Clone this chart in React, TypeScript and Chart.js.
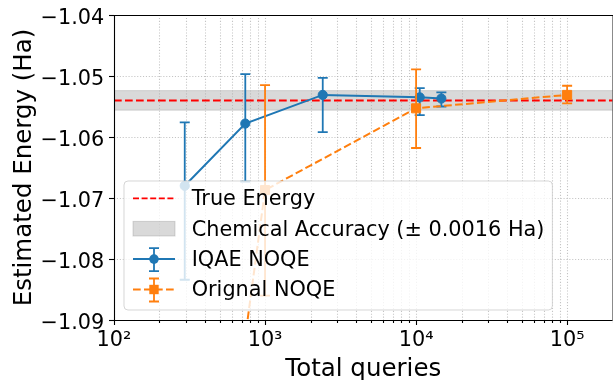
import React, { useEffect, useRef } from 'react';
import { Chart, registerables } from 'chart.js';

Chart.register(...registerables);

// ---- data ----
const iqaeQueries = [294, 740, 2410, 10570, 14700];
const iqaeEnergy = [-1.068, -1.0578, -1.0531, -1.0535, -1.0537];
const iqaeLower = [-1.0834, -1.0673, -1.0592, -1.0564, -1.055];
const iqaeUpper = [-1.0576, -1.0497, -1.0503, -1.052, -1.0527];

const noqeQueries = [600, 1000, 10000, 100000];
const noqeEnergy = [-1.1095, -1.0687, -1.0553, -1.0531];
const noqeLower = [-1.1195, -1.086, -1.0618, -1.0545];
const noqeUpper = [-1.0995, -1.0515, -1.0489, -1.0516];

const trueEnergy = -1.054;
const chemAccuracy = 0.0016;

const yTickValues = [-1.09, -1.08, -1.07, -1.06, -1.05, -1.04];
const xDecades = [100, 1000, 10000, 100000];
const xMin = 100;
const xMax = 200000;
const yMin = -1.09;
const yMax = -1.04;

const seriesLabels = ['IQAE NOQE', 'Orignal NOQE'];
const legendLabels = ['True Energy', 'Chemical Accuracy (\u00b1 0.0016 Ha)', 'IQAE NOQE', 'Orignal NOQE'];
const xTitle = 'Total queries';
const yTitle = 'Estimated Energy (Ha)';

// ---- styling ----
const FONT = "'DejaVu Sans', 'Liberation Sans', sans-serif";
const BLUE = '#1f77b4';
const ORANGE = '#ff7f0e';
const RED = '#ff0000';
const BAND = 'rgba(128,128,128,0.3)';
const GRID = 'rgba(176,176,176,0.75)';
const TICK_FONT = 20.8;
const TITLE_FONT = 24.5;
const DASH = [7.7, 3.3];
const CAP = 5;

const xTickList: number[] = [];
xDecades.forEach((d) => {
  for (let m = 1; m <= 9; m++) {
    const v = m * d;
    if (v <= xMax) xTickList.push(v);
  }
});

const SUP: Record<string, string> = {
  '0': '\u2070', '1': '\u00b9', '2': '\u00b2', '3': '\u00b3', '4': '\u2074',
  '5': '\u2075', '6': '\u2076', '7': '\u2077', '8': '\u2078', '9': '\u2079',
};
const isDecade = (v: number) => Math.abs(Math.log10(v) - Math.round(Math.log10(v))) < 1e-9;
const decadeLabel = (v: number) =>
  '10' + String(Math.round(Math.log10(v))).split('').map((c) => SUP[c]).join('');
const yLabel = (n: number) => (n < 0 ? '\u2212' : '') + Math.abs(n).toFixed(2);

const errSets = [
  { q: iqaeQueries, lo: iqaeLower, hi: iqaeUpper, color: BLUE },
  { q: noqeQueries, lo: noqeLower, hi: noqeUpper, color: ORANGE },
];

function drawErrorBar(ctx: CanvasRenderingContext2D, x: number, yHi: number, yLo: number, color: string) {
  ctx.strokeStyle = color;
  ctx.lineWidth = 1.8;
  ctx.setLineDash([]);
  ctx.beginPath();
  ctx.moveTo(x, yHi);
  ctx.lineTo(x, yLo);
  ctx.moveTo(x - CAP, yHi);
  ctx.lineTo(x + CAP, yHi);
  ctx.moveTo(x - CAP, yLo);
  ctx.lineTo(x + CAP, yLo);
  ctx.stroke();
}

const customPlugin = {
  id: 'customDecor',
  beforeDatasetsDraw(chart: any) {
    const { ctx, chartArea: a, scales } = chart;
    const x = scales.x;
    const y = scales.y;
    ctx.save();
    ctx.beginPath();
    ctx.rect(a.left, a.top, a.right - a.left, a.bottom - a.top);
    ctx.clip();
    // chemical accuracy band
    const bTop = y.getPixelForValue(trueEnergy + chemAccuracy);
    const bBot = y.getPixelForValue(trueEnergy - chemAccuracy);
    ctx.fillStyle = BAND;
    ctx.fillRect(a.left, bTop, a.right - a.left, bBot - bTop);
    ctx.strokeStyle = BAND;
    ctx.lineWidth = 1;
    ctx.strokeRect(a.left - 2, bTop, a.right - a.left + 4, bBot - bTop);
    // grid
    ctx.strokeStyle = GRID;
    ctx.lineWidth = 1.1;
    ctx.setLineDash([1.1, 1.8]);
    x.ticks.forEach((t: any) => {
      const px = Math.round(x.getPixelForValue(t.value)) + 0.5;
      ctx.beginPath();
      ctx.moveTo(px, a.top);
      ctx.lineTo(px, a.bottom);
      ctx.stroke();
    });
    y.ticks.forEach((t: any) => {
      const py = Math.round(y.getPixelForValue(t.value)) + 0.5;
      ctx.beginPath();
      ctx.moveTo(a.left, py);
      ctx.lineTo(a.right, py);
      ctx.stroke();
    });
    // true energy
    const ty = y.getPixelForValue(trueEnergy);
    ctx.strokeStyle = RED;
    ctx.lineWidth = 2;
    ctx.setLineDash(DASH);
    ctx.beginPath();
    ctx.moveTo(a.left, ty);
    ctx.lineTo(a.right, ty);
    ctx.stroke();
    ctx.restore();
  },
  beforeDatasetDraw(chart: any, args: any) {
    const { ctx, chartArea: a, scales } = chart;
    const s = errSets[args.index];
    if (!s) return;
    ctx.save();
    ctx.beginPath();
    ctx.rect(a.left, a.top, a.right - a.left, a.bottom - a.top);
    ctx.clip();
    s.q.forEach((q, i) => {
      const px = scales.x.getPixelForValue(q);
      drawErrorBar(ctx, px, scales.y.getPixelForValue(s.hi[i]), scales.y.getPixelForValue(s.lo[i]), s.color);
    });
    ctx.restore();
  },
  afterDraw(chart: any) {
    const { ctx, chartArea: a, scales } = chart;
    const x = scales.x;
    const y = scales.y;
    ctx.save();
    ctx.setLineDash([]);
    ctx.strokeStyle = '#000';
    ctx.fillStyle = '#000';
    ctx.lineWidth = 1.1;
    // tick marks + tick labels
    ctx.font = `${TICK_FONT}px ${FONT}`;
    ctx.textBaseline = 'alphabetic';
    x.ticks.forEach((t: any) => {
      const px = Math.round(x.getPixelForValue(t.value)) + 0.5;
      const major = isDecade(t.value);
      ctx.beginPath();
      ctx.moveTo(px, a.bottom);
      ctx.lineTo(px, a.bottom + (major ? 5 : 3));
      ctx.stroke();
      if (major) {
        ctx.textAlign = 'center';
        ctx.fillText(decadeLabel(t.value), x.getPixelForValue(t.value), a.bottom + 26);
      }
    });
    y.ticks.forEach((t: any) => {
      const py = Math.round(y.getPixelForValue(t.value)) + 0.5;
      ctx.beginPath();
      ctx.moveTo(a.left, py);
      ctx.lineTo(a.left - 5, py);
      ctx.stroke();
      ctx.textAlign = 'right';
      ctx.fillText(yLabel(t.value), a.left - 9.7, y.getPixelForValue(t.value) + 8.5);
    });
    // axis titles
    ctx.font = `${TITLE_FONT}px ${FONT}`;
    ctx.textAlign = 'center';
    ctx.fillText(xTitle, (a.left + a.right) / 2, 375.7);
    ctx.save();
    ctx.translate(30.7, (a.top + a.bottom) / 2);
    ctx.rotate(-Math.PI / 2);
    ctx.fillText(yTitle, 0, 0);
    ctx.restore();

    // spines
    ctx.beginPath();
    ctx.moveTo(a.left + 0.5, a.top);
    ctx.lineTo(a.left + 0.5, a.bottom + 1);
    ctx.moveTo(a.left, a.bottom + 0.5);
    ctx.lineTo(a.right, a.bottom + 0.5);
    ctx.moveTo(a.left, a.top + 0.5);
    ctx.lineTo(a.right, a.top + 0.5);
    ctx.moveTo(a.right + 0.5, a.top);
    ctx.lineTo(a.right + 0.5, a.bottom);
    ctx.stroke();

    // legend
    ctx.font = `${TICK_FONT}px ${FONT}`;
    const textX = a.left + 77.7;
    let maxW = 0;
    legendLabels.forEach((l) => { maxW = Math.max(maxW, ctx.measureText(l).width); });
    const L = a.left + 10;
    const R = textX + maxW + 8;
    const B = a.bottom - 10;
    const T = B - 129;
    const r = 4;
    ctx.beginPath();
    ctx.moveTo(L + r, T);
    ctx.lineTo(R - r, T);
    ctx.arcTo(R, T, R, T + r, r);
    ctx.lineTo(R, B - r);
    ctx.arcTo(R, B, R - r, B, r);
    ctx.lineTo(L + r, B);
    ctx.arcTo(L, B, L, B - r, r);
    ctx.lineTo(L, T + r);
    ctx.arcTo(L, T, L + r, T, r);
    ctx.closePath();
    ctx.fillStyle = 'rgba(255,255,255,0.8)';
    ctx.fill();
    ctx.strokeStyle = 'rgba(204,204,204,0.8)';
    ctx.lineWidth = 1;
    ctx.stroke();

    const hx0 = L + 9;
    const hx1 = L + 51;
    const hc = (hx0 + hx1) / 2;
    const rowY = (i: number) => T + 17.3 + i * 30.4;

    // True Energy
    ctx.strokeStyle = RED;
    ctx.lineWidth = 1.8;
    ctx.setLineDash([6, 2.6]);
    ctx.beginPath();
    ctx.moveTo(hx0, rowY(0));
    ctx.lineTo(hx1, rowY(0));
    ctx.stroke();
    ctx.setLineDash([]);
    // band patch
    ctx.fillStyle = BAND;
    ctx.fillRect(hx0, rowY(1) - 7.3, hx1 - hx0, 14.6);
    ctx.strokeStyle = BAND;
    ctx.lineWidth = 1;
    ctx.strokeRect(hx0, rowY(1) - 7.3, hx1 - hx0, 14.6);
    // IQAE
    ctx.strokeStyle = BLUE;
    ctx.lineWidth = 2;
    ctx.beginPath();
    ctx.moveTo(hx0, rowY(2));
    ctx.lineTo(hx1, rowY(2));
    ctx.stroke();
    drawErrorBar(ctx, hc, rowY(2) - 11, rowY(2) + 12, BLUE);
    ctx.fillStyle = BLUE;
    ctx.beginPath();
    ctx.arc(hc, rowY(2), 4.8, 0, Math.PI * 2);
    ctx.fill();
    // Original
    ctx.strokeStyle = ORANGE;
    ctx.lineWidth = 2;
    ctx.setLineDash(DASH);
    ctx.beginPath();
    ctx.moveTo(hx0, rowY(3));
    ctx.lineTo(hx1, rowY(3));
    ctx.stroke();
    ctx.setLineDash([]);
    drawErrorBar(ctx, hc, rowY(3) - 11, rowY(3) + 12, ORANGE);
    ctx.fillStyle = ORANGE;
    ctx.fillRect(hc - 4.7, rowY(3) - 4.7, 9.4, 9.4);

    // labels
    ctx.fillStyle = '#000';
    ctx.textAlign = 'left';
    ctx.textBaseline = 'alphabetic';
    legendLabels.forEach((l, i) => ctx.fillText(l, textX, rowY(i) + 6.9));
    ctx.restore();
  },
};

export default function App() {
  const ref = useRef<HTMLCanvasElement>(null);
  useEffect(() => {
    document.body.style.margin = '0';
    document.body.style.overflow = 'hidden';
    const canvas = ref.current;
    if (!canvas) return;
    const chart = new Chart(canvas, {
      type: 'line',
      data: {
        datasets: [
          {
            label: seriesLabels[0],
            data: iqaeQueries.map((q, i) => ({ x: q, y: iqaeEnergy[i] })),
            borderColor: BLUE,
            backgroundColor: BLUE,
            borderWidth: 2,
            pointStyle: 'circle',
            pointRadius: 4.6,
            pointBorderWidth: 1,
            pointBackgroundColor: BLUE,
            pointBorderColor: BLUE,
            tension: 0,
            fill: false,
            clip: 0,
            order: 2,
          },
          {
            label: seriesLabels[1],
            data: noqeQueries.map((q, i) => ({ x: q, y: noqeEnergy[i] })),
            borderColor: ORANGE,
            backgroundColor: ORANGE,
            borderWidth: 2,
            borderDash: DASH,
            pointStyle: 'rect',
            pointRadius: 6.4,
            pointBorderWidth: 1,
            pointBackgroundColor: ORANGE,
            pointBorderColor: ORANGE,
            tension: 0,
            fill: false,
            clip: 0,
            order: 1,
          },
        ],
      },
      options: {
        responsive: false,
        animation: false,
        devicePixelRatio: 1,
        layout: { padding: { top: 15, right: 6, left: 0, bottom: 0 } },
        plugins: { legend: { display: false }, tooltip: { enabled: false } },
        events: [],
        scales: {
          x: {
            type: 'logarithmic',
            position: 'bottom',
            min: xMin,
            max: xMax,
            grid: { display: false },
            border: { display: false },
            afterBuildTicks: (scale: any) => {
              scale.ticks = xTickList.map((v) => ({ value: v, major: isDecade(v) }));
            },
            afterFit: (scale: any) => { scale.height = 60; },
            ticks: { display: false, autoSkip: false },
            title: { display: false },
          },
          y: {
            type: 'linear',
            position: 'left',
            min: yMin,
            max: yMax,
            grid: { display: false },
            border: { display: false },
            afterBuildTicks: (scale: any) => {
              scale.ticks = yTickValues.map((v) => ({ value: v }));
            },
            afterFit: (scale: any) => { scale.width = 114; },
            ticks: { display: false },
            title: { display: false },
          },
        },
      },
      plugins: [customPlugin],
    } as any);
    return () => chart.destroy();
  }, []);
  return (
    <div style={{ width: 613, height: 380, overflow: 'hidden' }}>
      <canvas ref={ref} width={620} height={380} style={{ display: 'block' }} />
    </div>
  );
}
